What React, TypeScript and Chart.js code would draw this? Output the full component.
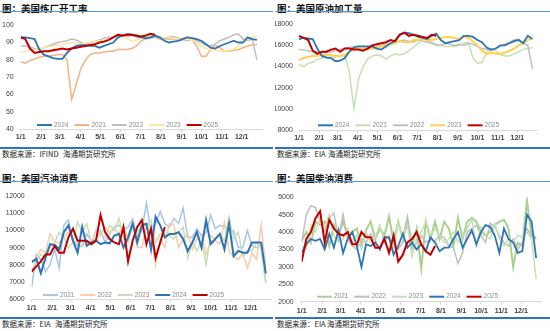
import React, { useEffect, useRef } from "react";
import { Chart, registerables } from "chart.js";
Chart.register(...registerables);

const FONT = '"Liberation Sans", "Noto Sans CJK SC", sans-serif';
const CJK = '"Noto Sans CJK SC", sans-serif';

// month tick positions (day of year) and labels
const monthDays = [0, 31, 59, 90, 120, 151, 181, 212, 243, 273, 304, 334];
const monthLabels = ["1/1", "2/1", "3/1", "4/1", "5/1", "6/1", "7/1", "8/1", "9/1", "10/1", "11/1", "12/1"];

// ---- Refinery utilization (%) weekly
const util2024 = [93, 93, 92.5, 92, 86, 83, 82, 81, 80.5, 80.5, 84, 86.5, 88, 88.5, 88.5, 88, 88, 87, 88, 89, 90, 93, 94, 95, 94.5, 93.5, 93, 92.5, 93, 94, 93, 91, 90, 90.5, 91, 92, 93, 92.5, 92, 91, 89, 87, 86.5, 88, 89, 90, 91, 90, 90, 93, 92, 91.5];
const util2021 = [79, 78, 79.5, 80.5, 81.5, 82, 82, 82.5, 83, 83, 80, 57, 66, 75, 80, 83, 84, 84, 84.5, 85, 85, 86, 86, 86, 86.5, 88, 91, 92, 93, 93, 92, 92, 92, 92, 92, 92.5, 93, 91.5, 88, 82, 82, 86, 88.5, 87, 85, 85, 85.5, 86, 87, 88, 88.5, 89];
const util2022 = [88, 88, 87.5, 86.5, 86, 87, 88, 89, 90, 90.5, 91, 92, 91.5, 90, 89, 90, 90.5, 91.5, 92.5, 93, 93, 94, 93.5, 93.5, 94, 93.5, 93, 92, 92.5, 93, 93, 92.5, 93, 93.5, 92.5, 91.5, 91, 92, 91, 90, 88.5, 88, 89, 91, 92, 93, 94.5, 95, 92, 91, 92, 80];
const util2023 = [84, 85, 86, 86, 86.5, 87, 87.5, 88, 88.5, 89, 89.5, 90, 89.5, 89, 89.5, 90, 90.5, 91, 91, 92, 93, 95, 94, 92, 91, 91.5, 92.5, 93.5, 94, 94, 93, 93, 93, 92.5, 92, 91.5, 92, 91.5, 90, 88, 86.5, 86, 85.5, 85, 85, 85.5, 86, 88, 90, 92, 93.5, 93];
const util2025 = [93, 92, 86.5, 84, 84.5, 85, 85, 85.5, 86, 86.5, 86, 86.5, 87, 87.5, 88, 88.5, 89, 90, 90.5, 91.5, 93, 94.5, 94, 94.5, 94.5, 94, 93.5, 94, 95, 94.5];

// ---- Crude runs (kb/d) weekly
const runs2024 = [16600, 16700, 16650, 16600, 15700, 15000, 14850, 14800, 14500, 14550, 14800, 15400, 15800, 15900, 15900, 15900, 15900, 15700, 15600, 15900, 16200, 16400, 17000, 17200, 17150, 17000, 16800, 16700, 16600, 16900, 17100, 16500, 16200, 16300, 16400, 16500, 16900, 16900, 16800, 16500, 16300, 15800, 15600, 15700, 16000, 16000, 16200, 16400, 16500, 16200, 16900, 16600];
const runs2021 = [14200, 14000, 14300, 14400, 14700, 14800, 14900, 14900, 14900, 15000, 15000, 13500, 10000, 12800, 14000, 14700, 15000, 15100, 15000, 14700, 15000, 15200, 15100, 15200, 15500, 15800, 16200, 16600, 16500, 16300, 16100, 16000, 15900, 15900, 15900, 16000, 16200, 16300, 14800, 14300, 14400, 15300, 15700, 15500, 15100, 15000, 15000, 15200, 15400, 15600, 15700, 15800];
const runs2022 = [15600, 15550, 15500, 15400, 15400, 15300, 15300, 15400, 15500, 15600, 15700, 15800, 15900, 15900, 15900, 15800, 15800, 15900, 16000, 16100, 16200, 16300, 16400, 16500, 16400, 16300, 16500, 16400, 16300, 16200, 16000, 16000, 16200, 16100, 16000, 16100, 16000, 16200, 16100, 15900, 15700, 15600, 15500, 15700, 15900, 16100, 16300, 16500, 16600, 16200, 16000, 13800];
const runs2023 = [14600, 14800, 14900, 15000, 15000, 15100, 15100, 15100, 15000, 15000, 15100, 15400, 15600, 15700, 15700, 15700, 15700, 15800, 15900, 16000, 16100, 16200, 16400, 16300, 16300, 16500, 16500, 16600, 16500, 16500, 16600, 16700, 16800, 16800, 16700, 16600, 16800, 16700, 16400, 16000, 15500, 15200, 15300, 15200, 15200, 15300, 15500, 15700, 16000, 16200, 16500, 16700];
const runs2025 = [16900, 16700, 16500, 15500, 15200, 15400, 15400, 15600, 15700, 15400, 15700, 15700, 15600, 15600, 15500, 15700, 16000, 16100, 16200, 16300, 16500, 16400, 17000, 17200, 16900, 17000, 16900, 16800, 16700, 17000, 16900];

// ---- Gasoline demand (kb/d) weekly
const gas2021 = [6700, 8600, 8300, 7600, 8000, 8900, 7800, 10300, 10600, 9400, 9100, 9100, 9800, 9400, 9500, 10000, 9300, 9800, 10200, 10300, 10000, 10200, 10700, 9600, 10000, 11600, 9900, 10400, 11100, 10400, 10200, 10700, 10400, 11300, 9600, 9600, 10100, 9700, 9900, 10900, 10100, 10300, 10200, 10000, 10000, 9000, 9000, 10000, 9100, 9000, 9200, 7000];
const gas2022 = [7500, 8400, 8900, 8700, 9800, 9300, 9300, 9600, 9900, 9500, 9200, 9100, 9300, 9300, 10000, 9700, 10200, 9900, 10100, 9800, 10300, 9500, 10600, 9000, 9000, 10300, 9800, 8000, 9500, 9000, 10400, 10300, 9000, 9500, 9800, 8900, 9500, 9700, 8600, 9400, 9400, 9200, 10500, 8800, 8500, 8300, 8700, 7800, 8700, 8300, 10300, 7800];
const gas2023 = [7600, 8200, 8600, 8400, 9000, 9300, 9900, 9600, 9000, 9300, 10500, 9900, 10400, 9300, 9500, 9800, 9600, 10300, 10000, 10700, 9600, 9300, 10300, 9800, 10400, 10200, 10600, 9300, 9800, 9900, 9700, 9500, 9900, 10200, 8400, 9300, 8800, 9400, 8000, 9700, 9500, 9800, 9400, 10800, 9500, 9900, 8500, 8800, 8800, 9300, 8900, 6900];
const gas2024 = [8150, 8350, 7500, 8400, 9200, 9150, 8900, 9900, 10300, 9400, 8700, 10200, 9100, 9300, 9400, 9200, 9300, 9250, 9700, 9800, 9000, 9600, 10400, 9300, 10300, 10400, 8900, 10800, 10300, 9600, 9800, 9800, 9900, 9500, 8800, 9300, 9900, 9000, 10600, 9200, 9500, 9800, 8900, 10400, 8500, 8800, 8700, 8700, 9300, 9300, 9300, 7500];
const gas2025 = [7600, 7900, 8200, 8600, 8600, 9100, 8700, 8700, 9600, 10100, 9400, 9400, 9400, 9200, 9400, 10900, 9900, 9500, 9300, 9200, 10200, 8200, 9400, 10200, 10600, 9200, 10100, 8400, 9300, 10200];

// ---- Diesel demand (kb/d) weekly
const dsl2021 = [3750, 4000, 3700, 4300, 4200, 4300, 3600, 4200, 3900, 4300, 3900, 4000, 4100, 3600, 4050, 4300, 3800, 4100, 3900, 4450, 3700, 4300, 3800, 4400, 3600, 4100, 2950, 4300, 3800, 4300, 3800, 4300, 4100, 3600, 4400, 3800, 4300, 4400, 4300, 4000, 3900, 4000, 4200, 4300, 4350, 4100, 3000, 3700, 3600, 4900, 3900, 3800];
const dsl2022 = [3700, 4500, 4750, 4700, 4300, 4000, 4400, 4550, 3800, 4500, 3800, 3600, 3500, 3800, 3700, 3950, 3750, 3500, 3850, 3800, 3600, 3500, 3700, 4350, 3500, 3700, 3900, 3700, 3800, 3750, 3900, 3850, 3600, 3550, 3100, 3400, 4000, 4100, 4200, 3900, 3700, 4250, 4150, 3900, 3700, 3600, 3800, 3500, 3700, 4100, 3900, 3850];
const dsl2023 = [3600, 3500, 4200, 4000, 4400, 4150, 4500, 3900, 3700, 3800, 4100, 3700, 3900, 3500, 4000, 3700, 3850, 4200, 3700, 3900, 3500, 4300, 3800, 4200, 3300, 3800, 4000, 4300, 3900, 4100, 3900, 3700, 3800, 4000, 3700, 3850, 4100, 4350, 3600, 4150, 3900, 3800, 4250, 3800, 3600, 3800, 3700, 3900, 3850, 4000, 3800, 2650];
const dsl2024 = [3400, 3650, 3800, 3750, 3800, 3500, 3950, 3550, 4050, 3400, 3800, 4000, 3600, 3000, 3650, 3600, 3700, 3500, 3850, 3850, 3350, 3600, 3950, 3550, 3700, 3500, 3650, 3450, 3850, 3700, 3450, 3550, 3550, 3800, 4000, 3550, 3800, 4050, 3650, 4000, 4200, 4150, 3900, 3400, 4100, 3800, 3700, 3400, 3450, 4500, 4300, 3250];
const dsl2025 = [3150, 3800, 4000, 4400, 4600, 3700, 4350, 4100, 3950, 3900, 4000, 3650, 3650, 4000, 3850, 3850, 3550, 3550, 3800, 3400, 3900, 3150, 3350, 3700, 3800, 4000, 3650, 3450, 3350, 3600];

type Series = { label: string; values: number[]; color: string; width: number; order: number };

type PanelCfg = {
  title: string;
  source: string;
  sourceGap: number;
  left: number; top: number; w: number;
  canvasTop: number; canvasH: number;
  yW: number; padR: number; padT: number; xH: number;
  yMin: number; yMax: number; yStep: number; yPad: number; xPad: number;
  legendX: number; legendY: number;
  series: Series[];
};

const insideLegend = {
  id: "insideLegend",
  afterDatasetsDraw(chart: any, _args: any, opts: any) {
    const ctx = chart.ctx;
    ctx.save();
    ctx.font = `6.5px ${FONT}`;
    ctx.textBaseline = "middle";
    ctx.textAlign = "left";
    (opts.items || []).forEach((it: any, k: number) => {
      const x = opts.x + k * 37.4;
      const y = opts.y;
      ctx.strokeStyle = it.color;
      ctx.lineWidth = 2;
      ctx.beginPath();
      ctx.moveTo(x, y);
      ctx.lineTo(x + 15, y);
      ctx.stroke();
      ctx.fillStyle = "#8c8c8c";
      ctx.fillText(it.label, x + 17, y);
    });
    ctx.restore();
  },
};

function Panel({ cfg }: { cfg: PanelCfg }) {
  const ref = useRef<HTMLCanvasElement>(null);
  useEffect(() => {
    if (!ref.current) return;
    const datasets = cfg.series.map((s) => ({
      label: s.label,
      data: s.values.map((v, i) => ({ x: i * 7, y: v })),
      borderColor: s.color,
      backgroundColor: s.color,
      borderWidth: s.width,
      pointRadius: 0,
      tension: 0,
      fill: false,
      order: s.order,
    }));
    const chart = new Chart(ref.current, {
      type: "line",
      data: { datasets },
      plugins: [insideLegend],
      options: {
        animation: false,
        responsive: false,
        maintainAspectRatio: false,
        layout: { padding: { left: 0, right: cfg.padR, top: cfg.padT, bottom: 0 }, autoPadding: false } as any,
        plugins: {
          legend: { display: false },
          tooltip: { enabled: false },
          insideLegend: {
            x: cfg.legendX,
            y: cfg.legendY,
            items: cfg.series.map((s) => ({ label: s.label, color: s.color })),
          },
        } as any,
        scales: {
          x: {
            type: "linear",
            min: 0,
            max: 365,
            afterBuildTicks: (s: any) => {
              s.ticks = monthDays.map((v) => ({ value: v }));
            },
            afterFit: (s: any) => {
              s.height = cfg.xH;
            },
            ticks: {
              autoSkip: false,
              maxRotation: 0,
              minRotation: 0,
              padding: cfg.xPad,
              color: "#404040",
              font: { size: 7, family: FONT, weight: "bold" },
              callback: (_v: any, i: number) => monthLabels[i],
            },
            grid: { drawOnChartArea: false, color: "#d9d9d9", tickLength: 3 },
            border: { color: "#d9d9d9" },
          },
          y: {
            min: cfg.yMin,
            max: cfg.yMax,
            afterFit: (s: any) => {
              s.width = cfg.yW;
            },
            ticks: {
              stepSize: cfg.yStep,
              padding: cfg.yPad,
              color: "#404040",
              font: { size: 7, family: FONT },
              callback: (v: any) => String(v),
            },
            grid: { display: false, drawTicks: false, tickLength: 0 },
            border: { display: false },
          },
        } as any,
      },
    });
    return () => chart.destroy();
  }, [cfg]);

  const titleTop = cfg.top + 2.5;
  return (
    <>
      <div
        style={{
          position: "absolute",
          left: cfg.left + 2,
          top: titleTop,
          fontFamily: CJK,
          fontWeight: "bold",
          fontSize: "9.5px",
          lineHeight: "10px",
          color: "#111",
          whiteSpace: "nowrap",
        }}
      >
        {cfg.title}
      </div>
      <div style={{ position: "absolute", left: cfg.left, top: cfg.top + 11, width: cfg.w, height: 1, background: "#5b9bd5" }} />
      <canvas
        ref={ref}
        width={cfg.w}
        height={cfg.canvasH}
        style={{ position: "absolute", left: cfg.left, top: cfg.canvasTop, width: cfg.w, height: cfg.canvasH }}
      />
      <div style={{ position: "absolute", left: cfg.left, top: cfg.top + 147, width: cfg.w, height: 2, background: "#2e75b6" }} />
      <div
        style={{
          position: "absolute",
          left: cfg.left + 2,
          top: cfg.top + 150,
          fontFamily: CJK,
          fontSize: "7.5px",
          lineHeight: "8px",
          color: "#222",
          whiteSpace: "nowrap",
        }}
      >
        {"数据来源：" + cfg.source}
      </div>
      <div
        style={{
          position: "absolute",
          left: cfg.left + cfg.sourceGap,
          top: cfg.top + 150,
          fontFamily: CJK,
          fontSize: "7.5px",
          lineHeight: "8px",
          color: "#222",
          whiteSpace: "nowrap",
        }}
      >
        海通期货研究所
      </div>
    </>
  );
}

const BLUE = "#2e75b6";
const RED = "#c00000";
const GRAY = "#bfbfbf";

const panels: PanelCfg[] = [
  {
    title: "图：美国炼厂开工率",
    source: "IFIND",
    sourceGap: 63,
    left: 0, top: 0, w: 273,
    canvasTop: 14, canvasH: 131,
    yW: 20.7, padR: 10.8, padT: 7, xH: 16,
    yMin: 40, yMax: 100, yStep: 10, yPad: 7, xPad: 1,
    legendX: 37, legendY: 111,
    series: [
      { label: "2024", values: util2024, color: BLUE, width: 1.8, order: 1 },
      { label: "2021", values: util2021, color: "#f4b183", width: 1.5, order: 4 },
      { label: "2022", values: util2022, color: GRAY, width: 1.5, order: 3 },
      { label: "2023", values: util2023, color: "#ffe699", width: 1.5, order: 2 },
      { label: "2025", values: util2025, color: RED, width: 2, order: 0 },
    ],
  },
  {
    title: "图：美国原油加工量",
    source: "EIA",
    sourceGap: 53,
    left: 275, top: 0, w: 275,
    canvasTop: 14, canvasH: 131,
    yW: 24, padR: 12.4, padT: 8, xH: 15,
    yMin: 8000, yMax: 18000, yStep: 2000, yPad: 6, xPad: 0.5,
    legendX: 43, legendY: 111.3,
    series: [
      { label: "2024", values: runs2024, color: BLUE, width: 1.8, order: 1 },
      { label: "2021", values: runs2021, color: "#c5e0b4", width: 1.5, order: 4 },
      { label: "2022", values: runs2022, color: GRAY, width: 1.5, order: 3 },
      { label: "2023", values: runs2023, color: "#ffd34d", width: 2, order: 2 },
      { label: "2025", values: runs2025, color: RED, width: 2, order: 0 },
    ],
  },
  {
    title: "图：美国汽油消费",
    source: "EIA",
    sourceGap: 55,
    left: 0, top: 170, w: 273,
    canvasTop: 185, canvasH: 131,
    yW: 31.7, padR: 2, padT: 7, xH: 17,
    yMin: 6000, yMax: 12000, yStep: 1000, yPad: 7, xPad: 2,
    legendX: 43, legendY: 110,
    series: [
      { label: "2021", values: gas2021, color: "#a9c4eb", width: 1.5, order: 4 },
      { label: "2022", values: gas2022, color: "#f8cbad", width: 1.5, order: 3 },
      { label: "2023", values: gas2023, color: "#c5e0b4", width: 1.5, order: 2 },
      { label: "2024", values: gas2024, color: BLUE, width: 2, order: 1 },
      { label: "2025", values: gas2025, color: RED, width: 2, order: 0 },
    ],
  },
  {
    title: "图：美国柴油消费",
    source: "EIA",
    sourceGap: 52,
    left: 275, top: 170, w: 275,
    canvasTop: 185, canvasH: 131,
    yW: 26.7, padR: 8.6, padT: 6.7, xH: 14.3,
    yMin: 2000, yMax: 5000, yStep: 500, yPad: 8, xPad: 2,
    legendX: 42, legendY: 111.7,
    series: [
      { label: "2021", values: dsl2021, color: "#a9d18e", width: 2, order: 4 },
      { label: "2022", values: dsl2022, color: GRAY, width: 1.5, order: 3 },
      { label: "2023", values: dsl2023, color: "#c5e0b4", width: 1.5, order: 2 },
      { label: "2024", values: dsl2024, color: BLUE, width: 1.8, order: 1 },
      { label: "2025", values: dsl2025, color: RED, width: 2, order: 0 },
    ],
  },
];

export default function App() {
  return (
    <div style={{ position: "fixed", left: 0, top: 0, width: 550, height: 331, background: "#fff", overflow: "hidden" }}>
      {panels.map((p, i) => (
        <Panel key={i} cfg={p} />
      ))}
    </div>
  );
}
